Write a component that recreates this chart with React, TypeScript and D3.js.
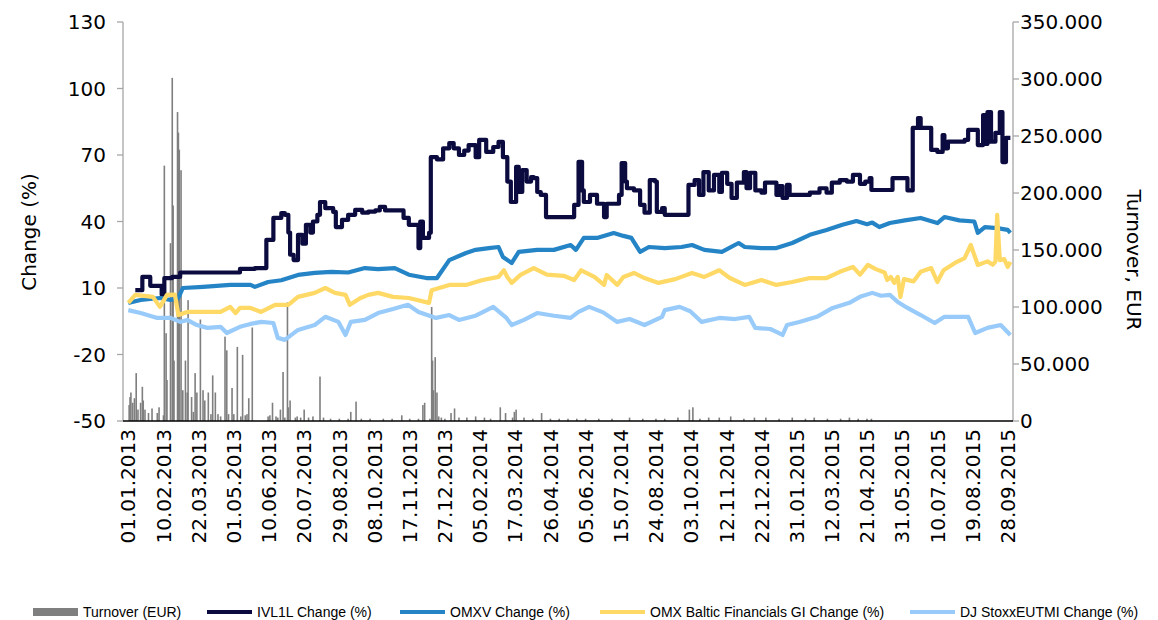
import * as d3 from "d3";
import React from "react";

// day offsets are counted from 01.01.2013
const tickLabels = [
  "01.01.2013", "10.02.2013", "22.03.2013", "01.05.2013", "10.06.2013", "20.07.2013",
  "29.08.2013", "08.10.2013", "17.11.2013", "27.12.2013", "05.02.2014", "17.03.2014",
  "26.04.2014", "05.06.2014", "15.07.2014", "24.08.2014", "03.10.2014", "12.11.2014",
  "22.12.2014", "31.01.2015", "12.03.2015", "21.04.2015", "31.05.2015", "10.07.2015",
  "19.08.2015", "28.09.2015",
];
const leftTicks = [-50, -20, 10, 40, 70, 100, 130];
const rightTicks = [0, 50000, 100000, 150000, 200000, 250000, 300000, 350000];

const ivlDays = [8,16,25,33,38,41,50,59,82,105,127,144,156,157,165,174,178,182,184,188,193,198,202,207,210,215,218,224,233,236,243,250,258,266,273,281,286,292,303,313,319,327,330,332,335,342,344,351,358,365,370,376,382,387,395,399,407,415,421,426,431,435,441,444,448,453,458,461,465,469,475,504,507,510,512,516,518,525,533,541,544,552,558,561,565,567,575,582,587,593,599,601,607,610,633,637,644,649,654,660,666,672,675,681,686,692,700,703,707,713,720,724,734,737,740,744,749,752,775,786,794,800,809,817,824,832,838,843,845,866,869,884,886,891,892,898,901,909,913,920,926,928,932,951,955,962,966,972,975,977,981,986,991,994,998,1003];
const ivlValues = [9,15,11,11,7,14.5,15,17,17,17,18.6,19,19,31.7,41.6,43.8,43,35,25,22.6,34,30,38.5,35,40,43,48.8,46,44.3,37.5,40.7,43,45.2,44,44.5,45,46.6,45,45,41.6,38.5,38.5,28,40,32.6,34.9,69,68,73,75.4,73,70,72,74.5,69,76.8,71.4,73.6,75.9,69,58,48.8,64.6,53.3,63.2,58,60,59.6,53.3,52,42,42,47.5,47.5,66.9,54,48.8,52,48,42,48,48,52,66.4,58,55,54,47.5,44,58.7,58,44.3,46,43,43,56.5,58.7,52,62.3,54,61,53.3,62,57,50.6,57.5,62.3,55,62,54,53,57.5,57.5,52,56,50.6,56.5,52,53,55,53,57.5,58.7,58,61,57,58,59.6,54.2,54.2,59.6,59.6,54,54,82.2,86.7,82.2,82.2,72.3,71.4,79,73,76,76.8,81.3,81.3,74.5,88,75,89.4,76,80,89.4,66.8,77.7,77.7];

const omxvDays = [0,14,36,48,57,62,85,116,139,144,159,174,193,212,231,250,269,284,303,319,339,351,365,384,395,410,421,426,436,444,465,484,503,509,518,533,552,563,572,582,592,610,629,641,655,675,694,701,720,737,755,775,794,812,828,840,846,854,866,883,901,920,928,945,962,966,974,988,1000,1003];
const omxvValues = [3.3,4.6,5.5,4.6,5.5,10,10.5,11.4,11.4,10.5,12.7,13.5,15.9,16.8,17.3,17,19,18.5,19,16,14.5,14.5,22.6,25.8,27.2,28,28.5,24,21.3,26.3,27.2,27.2,29.4,27.2,32.6,32.6,34.8,33.5,32.6,26.3,28.5,28,28.5,29.4,27.2,26.3,30.3,28.5,28,28,30.3,34,36.2,38.5,40.2,38.8,39.5,37.5,39.3,40.5,41.6,39.3,42,40.5,40,34.9,37.5,37,36.2,34.9];

const balticDays = [0,8,28,36,44,53,57,67,85,105,116,122,127,139,151,167,182,193,212,224,235,247,252,264,273,284,301,319,342,345,365,384,403,421,427,431,436,446,461,476,495,507,515,530,541,544,556,563,575,587,603,622,641,655,672,684,701,720,737,755,775,794,809,824,832,841,850,860,863,867,871,875,878,882,893,901,913,920,927,940,951,958,966,977,983,986,988,991,996,1000,1003];
const balticValues = [3.3,6.9,6,1.5,6.9,7,-2.2,-0.8,-0.8,-0.8,1.5,-1.3,1,1,-0.8,2.4,2.4,6,7.8,10,7.8,6.9,2.4,5.5,6.9,7.8,6,5.5,3.3,9,11.4,11.4,13.6,15,18,15,12.3,15.9,19,16,15.5,13.6,18,15,11.4,15.9,11.4,15,16.8,14.5,12.3,14,16.8,15,18,14.5,11.4,13.6,11.4,12.7,14.5,14.5,17.3,19.5,16,20.4,18.5,17,13.6,15,12.3,15,6,14,13,17.3,19,12.7,18,21.3,23.5,29.4,20.4,22,20.5,22,43,22.6,23,19.5,21.8];

const djDays = [0,14,33,48,59,67,78,90,105,112,127,139,151,165,170,178,193,212,224,239,247,253,269,284,301,318,330,350,365,376,395,415,430,436,450,465,484,503,512,524,540,556,570,587,607,610,627,639,652,672,690,706,713,730,737,744,749,763,783,801,820,832,846,856,866,875,886,901,917,928,955,963,977,992,1003];
const djValues = [0,-1.3,-3.5,-3.5,-5.3,-4.4,-6.7,-8,-7.5,-10.3,-7.5,-6.2,-5.3,-5.8,-12.5,-13.4,-8.9,-6.7,-3,-5.3,-11.2,-5.3,-4.4,-1.3,0.5,2.4,-0.8,-3.5,-2.2,-4.4,-2.5,1.5,-3.5,-6.7,-4.4,-1.3,-2.5,-3.5,-0.8,1.5,-1,-5.3,-4,-6.7,-3,0,1.5,-0.5,-5.3,-3.5,-4,-3,-8,-8.5,-9.8,-11.2,-6.7,-5.3,-3,1,3.3,6,7.8,6.5,6.9,3.7,1,-2.2,-5.8,-3,-3,-10.3,-8,-6.7,-11.2];

// turnover in thousand EUR
const turnoverDays = [1,2,3,5,7,9,11,14,16,17,19,23,27,33,35,40,41,43,44,48,50,51,52,56,57,58,60,62,65,67,68,72,74,76,78,82,85,87,91,94,96,99,102,105,110,112,114,118,120,124,128,130,133,135,137,141,159,161,164,168,170,173,176,178,181,182,184,190,192,196,200,205,210,218,222,230,240,250,253,259,265,275,290,300,311,320,330,335,337,343,345,346,347,349,351,353,356,360,367,371,376,385,395,405,412,423,429,437,439,441,450,460,470,480,490,500,510,520,535,550,570,585,600,610,625,638,642,650,660,672,685,700,712,725,740,755,770,780,795,810,820,830,840,845];
const turnoverValues = [14,21,25,16,20,42,10,16,30,18,10,7,11,7,12,5,224,77,36,156,301,189,53,271,253,238,220,27,53,25,106,21,8,42,25,89,27,18,25,6,40,25,6,4,74,62,6,29,6,65,4,58,5,6,20,82,4,5,16,4,3,10,43,3,104,12,18,3,4,3,10,3,4,39,3,2,2,2,8,17,2,2,2,2,5,2,2,14,16,2,100,53,27,56,25,4,3,2,7,11,3,3,4,3,2,12,7,3,8,10,3,2,7,2,2,2,2,2,2,2,3,2,2,2,3,10,12,2,3,3,4,2,3,3,2,3,2,3,2,2,3,2,2,2];

const series = [
  { name: "IVL1L Change (%)", days: ivlDays, values: ivlValues, color: "#0b0b40", curve: d3.curveStepAfter },
  { name: "OMXV Change (%)", days: omxvDays, values: omxvValues, color: "#2484c6", curve: d3.curveLinear },
  { name: "OMX Baltic Financials GI Change (%)", days: balticDays, values: balticValues, color: "#ffd966", curve: d3.curveLinear },
  { name: "DJ StoxxEUTMI Change (%)", days: djDays, values: djValues, color: "#99cbfa", curve: d3.curveLinear },
];

const start = new Date(2013, 0, 1);
const toDate = (d: number) => d3.timeDay.offset(start, d);
const parse = d3.timeParse("%d.%m.%Y");

const x = d3.scaleTime().domain([toDate(-6), toDate(1006)]).range([123, 1013]);
const yL = d3.scaleLinear().domain([-50, 130]).range([421, 22]);
const yR = d3.scaleLinear().domain([0, 350000]).range([421, 22]);
const fmtR = d3.formatLocale({ decimal: ",", thousands: ".", grouping: [3], currency: ["", ""] }).format(",");

const font = "'DejaVu Sans', Verdana, sans-serif";
const fs = 20;

export default function App() {
  const legend = [
    { label: "Turnover (EUR)", x0: 33, kind: "bar", color: "#7f7f7f" },
    ...series.map((s, i) => ({ label: s.name, x0: [207, 400, 600, 910][i], kind: "line", color: s.color })),
  ];

  return (
    <svg width={1158} height={620} style={{ position: "absolute", left: 0, top: 0, background: "#fff" }}>
      {/* turnover bars */}
      <g fill="#7f7f7f">
        {turnoverDays.map((d, i) => (
          <rect key={i} x={x(toDate(d)) - 0.8} width={1.6}
            y={yR(turnoverValues[i] * 1000)} height={yR(0) - yR(turnoverValues[i] * 1000)} />
        ))}
      </g>

      {series.map((s) => {
        const line = d3.line<[number, number]>()
          .x((d) => x(toDate(d[0])))
          .y((d) => yL(d[1]))
          .curve(s.curve);
        return (
          <path key={s.name} d={line(s.days.map((d, i) => [d, s.values[i]]) as [number, number][]) || ""}
            fill="none" stroke={s.color} strokeWidth={4.2} strokeLinejoin="round" />
        );
      })}

      {/* left axis */}
      <line x1={123} x2={123} y1={22} y2={421} stroke="#a6a6a6" strokeWidth={1.3} />
      {leftTicks.map((t) => (
        <g key={t}>
          <line x1={117} x2={123} y1={yL(t)} y2={yL(t)} stroke="#a6a6a6" strokeWidth={1.3} />
          <text x={106} y={yL(t)} dy="0.36em" textAnchor="end" fontFamily={font} fontSize={fs}>{t}</text>
        </g>
      ))}
      <text transform="translate(29,232) rotate(-90)" textAnchor="middle" dy="0.35em" fontFamily={font} fontSize={fs}>Change (%)</text>

      {/* right axis */}
      <line x1={1013} x2={1013} y1={22} y2={421} stroke="#a6a6a6" strokeWidth={1.3} />
      {rightTicks.map((t) => (
        <g key={t}>
          <line x1={1013} x2={1019} y1={yR(t)} y2={yR(t)} stroke="#a6a6a6" strokeWidth={1.3} />
          <text x={1020} y={yR(t)} dy="0.36em" textAnchor="start" fontFamily={font} fontSize={fs}>{fmtR(t)}</text>
        </g>
      ))}
      <text transform="translate(1134,260) rotate(90)" textAnchor="middle" dy="0.35em" fontFamily={font} fontSize={fs}>Turnover, EUR</text>

      {/* x axis */}
      <line x1={123} x2={1013} y1={421} y2={421} stroke="#000" strokeWidth={1.3} />
      {tickLabels.map((lab) => {
        const px = x(parse(lab) as Date);
        return (
          <text key={lab} transform={`translate(${px},429) rotate(-90)`} textAnchor="end" dy="0.36em"
            fontFamily={font} fontSize={fs}>{lab}</text>
        );
      })}

      {/* legend */}
      {legend.map((l) => (
        <g key={l.label}>
          {l.kind === "bar"
            ? <rect x={l.x0} y={608} width={45} height={8} fill={l.color} />
            : <line x1={l.x0} x2={l.x0 + 45} y1={612} y2={612} stroke={l.color} strokeWidth={4} />}
          <text x={l.x0 + 50} y={612} dy="0.35em" fontFamily="'Liberation Sans', Arial, sans-serif" fontSize={14}>{l.label}</text>
        </g>
      ))}
    </svg>
  );
}
